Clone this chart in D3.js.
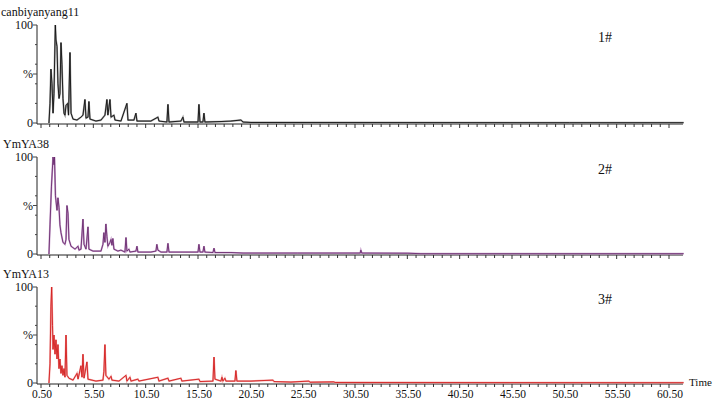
<!DOCTYPE html>
<html>
<head>
    <script src="https://d3js.org/d3.v7.min.js"></script>
</head>
<body style="margin:0">
    <svg width="722" height="400"></svg>
    <script>
        // time (min), relative intensity (%)
        var trace1 = [
            [1.26,0],[1.36,20],[1.45,55],[1.55,40],[1.65,10],[1.74,30],[1.87,100],[1.93,85],[2.03,78],
            [2.12,40],[2.22,25],[2.31,30],[2.41,82],[2.50,60],[2.60,25],[2.70,10],[2.79,8],[2.89,18],
            [3.05,20],[3.13,8],[3.27,72],[3.37,10],[3.56,4],[3.94,3],[4.32,6],[4.51,8],[4.70,24],[4.80,5],
            [4.99,6],[5.08,22],[5.18,4],[5.75,2],[6.23,3],[6.61,8],[6.80,24],[6.89,8],[7.09,24],[7.19,6],
            [7.47,8],[7.57,3],[8.14,2],[8.71,20],[8.81,3],[9.38,3],[9.57,10],[9.67,2],[11.0,2],[11.67,6],
            [11.77,2],[12.53,1],[12.63,19],[12.73,1],[13.87,2],[14.06,6],[14.16,1],[15.50,1],[15.59,19],
            [15.69,1],[15.97,1],[16.07,10],[16.16,1],[17.7,1.5],[18.65,2],[19.6,3],[19.8,1],[20.56,0.5],
            [51.0,0.3],[61.9,0.3]
        ];
        var trace2 = [
            [1.26,0],[1.36,30],[1.50,70],[1.65,100],[1.74,92],[1.79,100],[1.88,60],[1.93,55],[2.03,45],
            [2.12,58],[2.22,48],[2.31,30],[2.41,22],[2.60,12],[2.79,10],[2.89,15],[2.98,50],[3.08,42],
            [3.17,15],[3.37,8],[3.75,5],[4.04,8],[4.13,4],[4.32,5],[4.51,36],[4.61,10],[4.80,5],[4.99,28],
            [5.08,5],[5.47,3],[6.23,3],[6.42,10],[6.51,22],[6.61,12],[6.70,31],[6.80,18],[6.89,8],[7.09,12],
            [7.19,15],[7.28,9],[7.37,16],[7.47,5],[7.85,3],[8.14,4],[8.52,2],[8.62,17],[8.71,3],[8.90,5],
            [9.0,2],[9.57,3],[9.67,8],[9.76,2],[11.0,2],[11.48,3],[11.57,10],[11.67,4],[11.96,2],[12.53,2],
            [12.63,11],[12.73,2],[13.87,2],[14.83,2],[15.50,2],[15.59,10],[15.69,2],[15.97,2],[16.07,8],
            [16.16,2],[16.93,1.5],[17.03,6],[17.12,1.5],[18.65,1.5],[19.8,1],[25.0,1],[31.0,1],[31.06,4],
            [31.15,1],[35.55,0.8],[36.8,0.3],[61.9,0.3]
        ];
        var trace3 = [
            [1.26,0],[1.36,20],[1.45,80],[1.52,100],[1.60,60],[1.65,35],[1.74,50],[1.84,30],[1.93,45],
            [2.03,25],[2.12,40],[2.22,15],[2.31,25],[2.41,10],[2.50,18],[2.60,8],[2.70,15],[2.79,6],
            [2.89,50],[2.98,8],[3.17,5],[3.37,4],[3.56,3],[3.94,10],[4.04,4],[4.32,18],[4.42,6],[4.51,30],
            [4.61,5],[4.89,22],[4.99,4],[5.75,2],[6.42,3],[6.51,12],[6.61,40],[6.70,8],[6.99,4],[7.19,7],
            [7.28,3],[7.95,2],[8.62,8],[8.71,2],[9.0,6],[9.10,2],[9.76,4],[9.86,2],[11.67,6],[11.77,2],
            [12.63,5],[12.73,2],[13.87,5],[13.96,2],[15.59,4],[15.69,1.5],[16.93,2],[17.03,27],[17.12,4],
            [17.69,2],[17.79,6],[17.88,2],[18.07,5],[18.17,2],[19.03,2],[19.12,13],[19.22,2],[20.56,2],
            [22.66,3],[22.76,1.5],[24.38,1],[26.1,2],[26.2,0.8],[28.48,1.2],[28.6,0.5],[61.9,0.3]
        ];

        var sampleNames = ["canbiyanyang11", "YmYA38", "YmYA13"];
        var sampleTags = ["1#", "2#", "3#"];
        var xTickValues = d3.range(0.5, 60.51, 5);
        var yTickLabels = [[0, "0"], [50, "%"], [100, "100"]];

        var panels = [
            {data: trace1, name: sampleNames[0], tag: sampleTags[0], top: 25, bottom: 123, halo: "#9a9a9a", line: "#111"},
            {data: trace2, name: sampleNames[1], tag: sampleTags[1], top: 157, bottom: 254, halo: "#c8a2cc", line: "#6a2a6e"},
            {data: trace3, name: sampleNames[2], tag: sampleTags[2], top: 287, bottom: 383, halo: "#f0a0a0", line: "#d41e1e"}
        ];

        var svg = d3.select("svg");
        var x = d3.scaleLinear().domain([0.5, 60.5]).range([41, 669]);
        var axisLeft = 37, axisRight = 683;

        function label(px, py, str, size, anchor) {
            return svg.append("text")
                .attr("x", px).attr("y", py)
                .attr("text-anchor", anchor || "start")
                .style("font-family", "'Liberation Serif'")
                .style("font-size", size + "px")
                .style("fill", "#111")
                .text(str);
        }

        panels.forEach(function(p, i) {
            var y = d3.scaleLinear().domain([0, 100]).range([p.bottom, p.top]);
            var g = svg.append("g");

            // y axis
            g.append("line")
                .attr("x1", axisLeft).attr("x2", axisLeft)
                .attr("y1", p.top).attr("y2", p.bottom + 1)
                .attr("stroke", "#222");
            d3.range(0, 101, 20).concat([50]).forEach(function(v) {
                g.append("line")
                    .attr("x1", axisLeft - (v % 50 === 0 ? 4 : 2)).attr("x2", axisLeft)
                    .attr("y1", y(v)).attr("y2", y(v))
                    .attr("stroke", "#444");
            });

            // x axis baseline with ticks (6 per label interval)
            var base = p.bottom + 1;
            g.append("line")
                .attr("x1", axisLeft).attr("x2", axisRight)
                .attr("y1", base).attr("y2", base)
                .attr("stroke", "#222");
            var minor = d3.range(0, 73).map(function(k) { return 0.5 + k * 5 / 6; });
            g.selectAll(".xt").data(minor).enter().append("line")
                .attr("x1", function(d) { return x(d); })
                .attr("x2", function(d) { return x(d); })
                .attr("y1", base)
                .attr("y2", function(d, k) { return base + (k % 6 === 0 ? 4 : 3); })
                .attr("stroke", "#333");

            // trace
            var line = d3.line()
                .x(function(d) { return x(d[0]); })
                .y(function(d) { return y(d[1]); });
            g.append("path").datum(p.data)
                .attr("d", line)
                .attr("fill", "none")
                .attr("stroke", p.halo)
                .attr("stroke-width", 1.8);
            g.append("path").datum(p.data)
                .attr("d", line)
                .attr("fill", "none")
                .attr("stroke", p.line)
                .attr("stroke-width", 0.9);

            // texts
            label(i === 0 ? 1 : 3, p.top - 9, p.name, 12);
            label(598, p.top + 17, p.tag, 14);
            yTickLabels.forEach(function(t) {
                label(33, y(t[0]) + 4, t[1], 12, "end");
            });
            if (i === 2) {
                xTickValues.forEach(function(d) {
                    label(x(d) + 1, 398, d.toFixed(2), 11.5, "middle");
                });
                label(689, 386, "Time", 11);
            }
        });
    </script>
</body>
</html>
